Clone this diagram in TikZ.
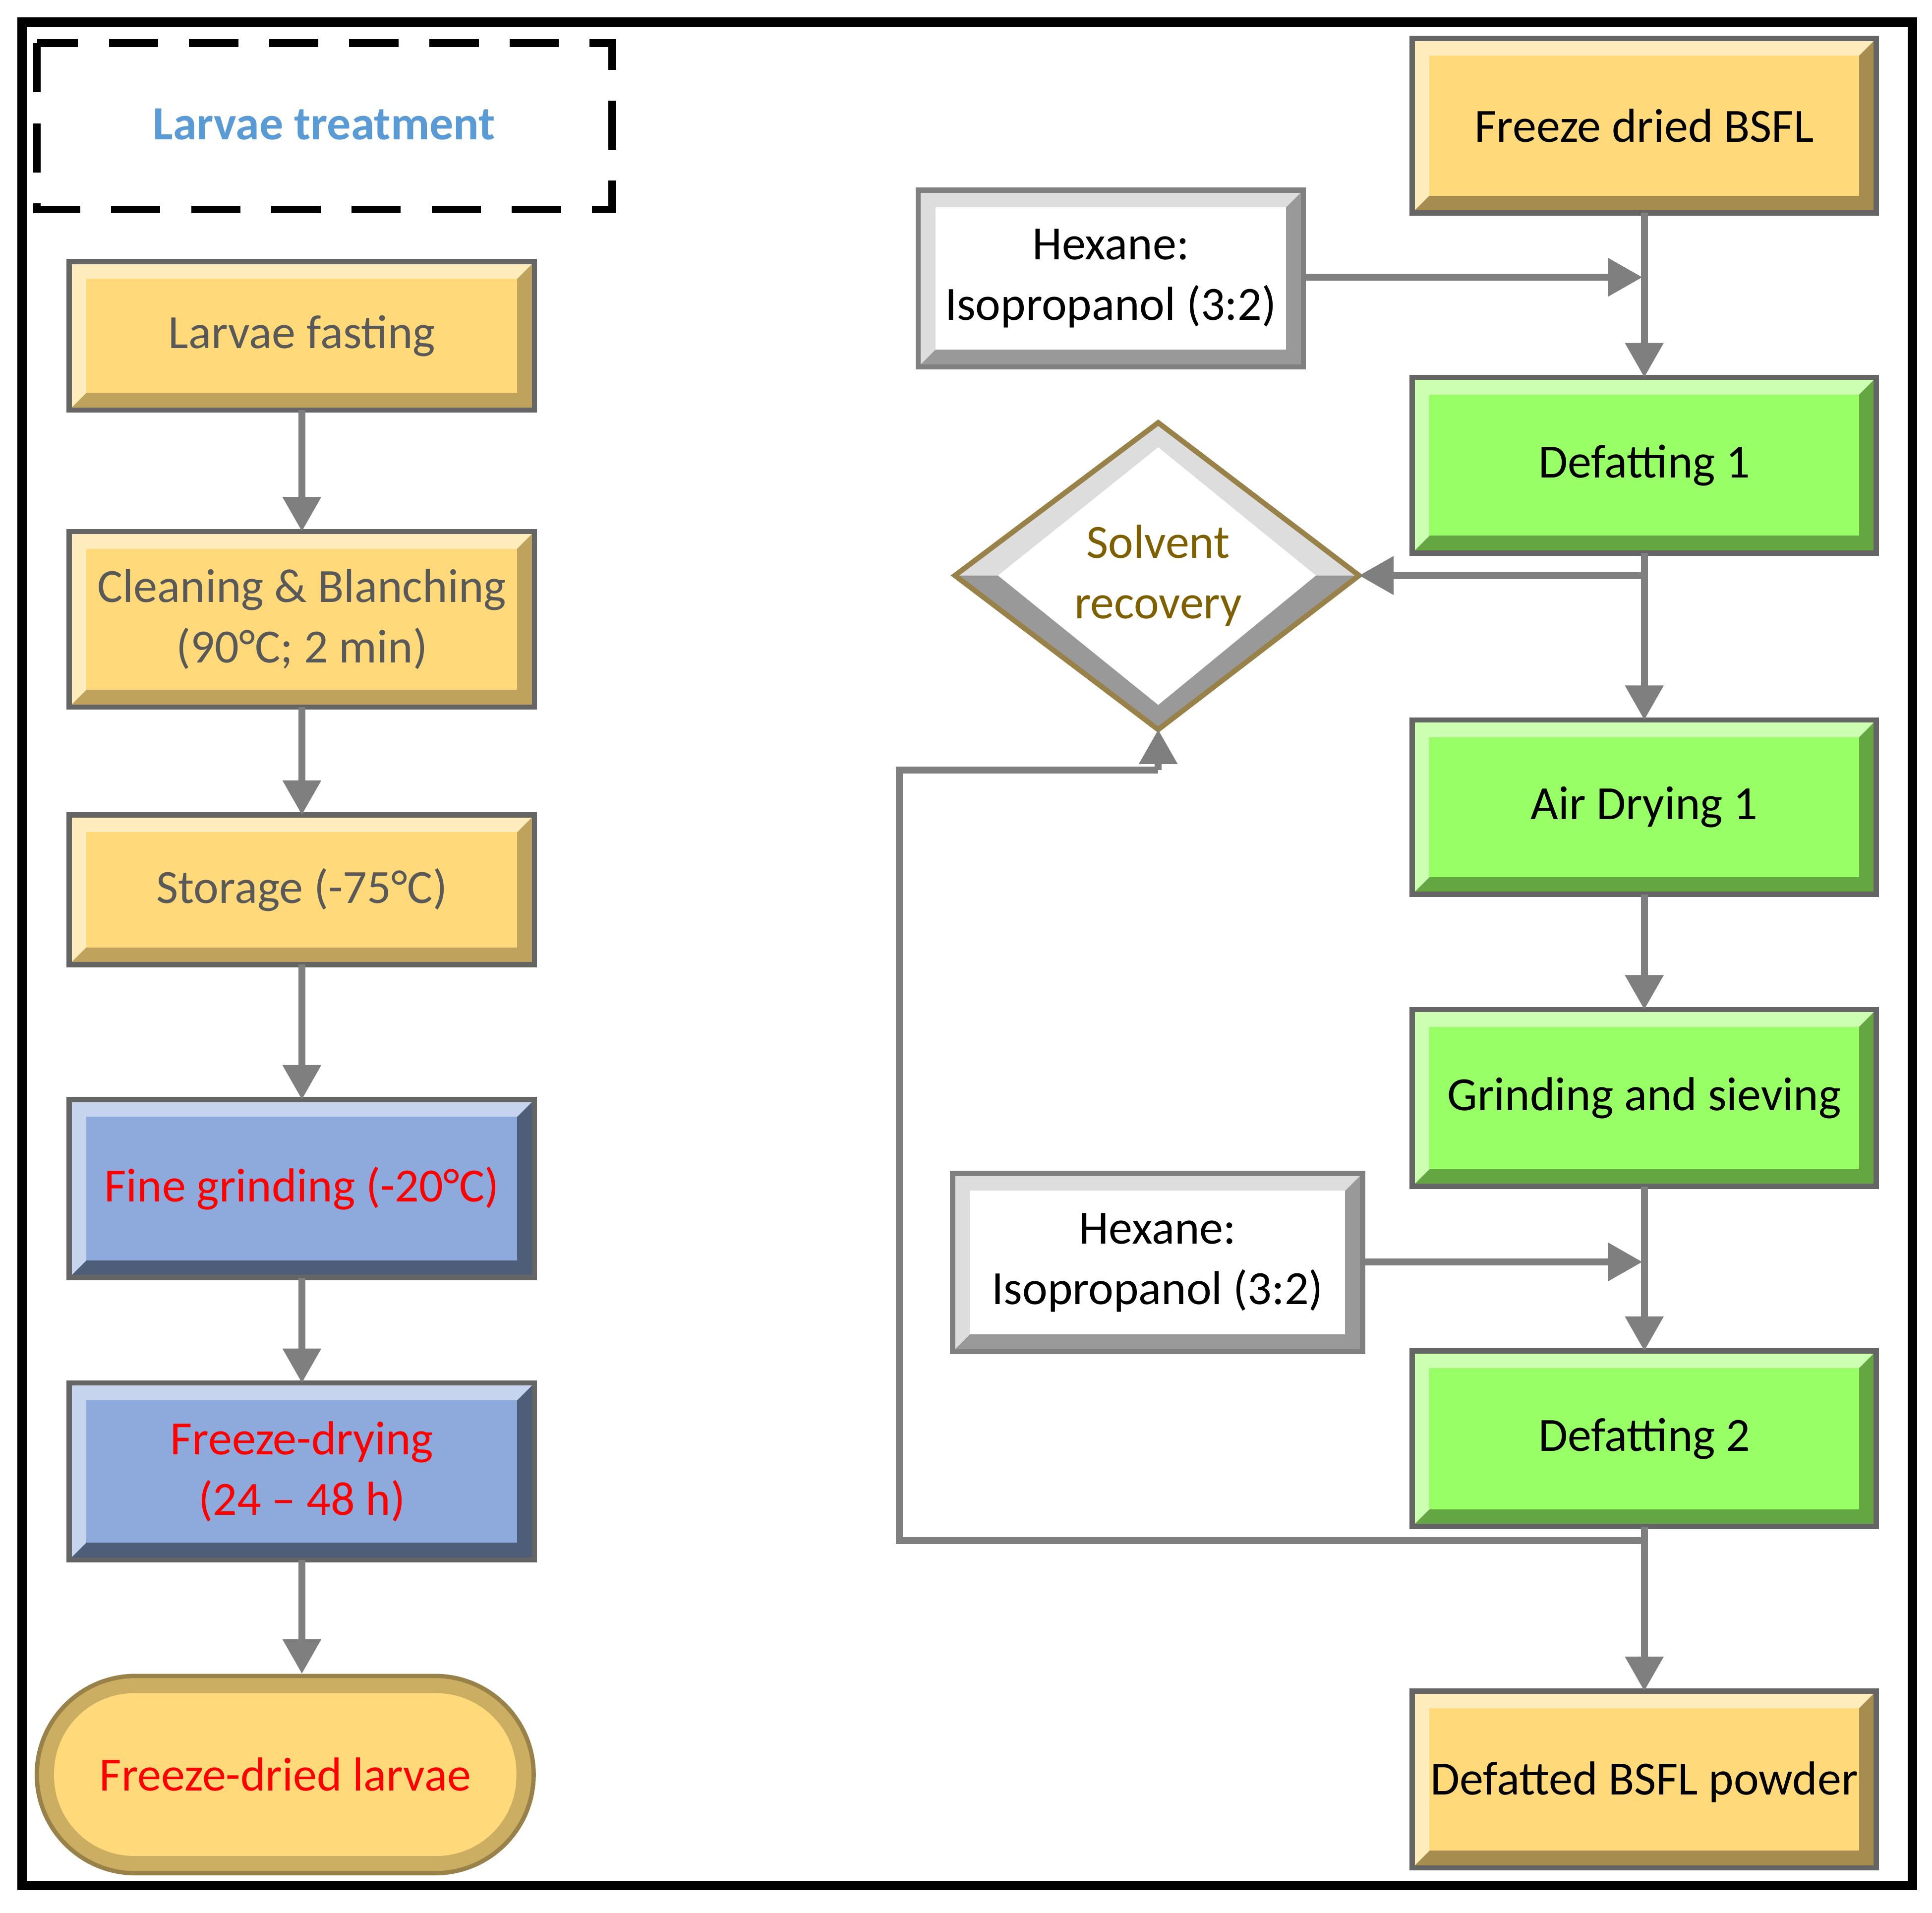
\documentclass[tikz,border=0pt]{standalone}
\usepackage{fontspec}
\setmainfont{Carlito}
\usetikzlibrary{arrows.meta,shapes.geometric,calc}
\definecolor{yel}{HTML}{FFD97A}
\definecolor{grn}{HTML}{99FF66}
\definecolor{blu}{HTML}{8EA9DB}
\definecolor{tgray}{HTML}{595959}
\definecolor{lblue}{HTML}{5B9BD5}
\definecolor{olive}{HTML}{7F6000}
\definecolor{arr}{HTML}{7F7F7F}
\definecolor{hlight}{HTML}{DDDDDD}
\definecolor{hdark}{HTML}{999999}
\tikzset{
 flow/.style={draw=arr,line width=1.6pt,-{Triangle[length=0.28cm,width=0.3cm]}},
 line/.style={draw=arr,line width=1.6pt},
}
\newcommand{\bev}[3]{%
 \fill[#2] (#1.north west) -- (#1.north east) -- ($(#1.north east)+(-14,14)$) -- ($(#1.south west)+(14,-14)$) -- (#1.south west) -- cycle;
 \fill[#3] (#1.south east) -- (#1.north east) -- ($(#1.north east)+(-14,14)$) -- ($(#1.south west)+(14,-14)$) -- (#1.south west) -- cycle;
}
\newcommand{\inner}[2]{\fill[#2] ($(#1.north west)+(14,14)$) rectangle ($(#1.south east)+(-14,-14)$);}
\begin{document}
\begin{tikzpicture}[x=0.01cm,y=-0.01cm]
\useasboundingbox (0,0) rectangle (1568,1552);
\draw[line width=2.2pt] (18,18) rectangle (1552,1530);
\draw[line width=1.8pt,dash pattern=on 0.4cm off 0.25cm] (30,35) rectangle (497,170);
\node[font=\fontsize{11}{14}\selectfont\bfseries,text=lblue] at (263,101) {Larvae treatment};
% left column
\node[minimum width=3.76cm,minimum height=1.19cm] (b1) at (245,272.5) {};
\bev{b1}{yel!50!white}{yel!75!black}
\inner{b1}{yel}
\draw[arr!80!black,line width=1.2pt] (b1.north west) rectangle (b1.south east);
\node[font=\fontsize{11}{14}\selectfont,text=tgray] at (b1) {Larvae fasting};

\node[minimum width=3.76cm,minimum height=1.41cm] (b2) at (245,502.5) {};
\bev{b2}{yel!50!white}{yel!75!black}
\inner{b2}{yel}
\draw[arr!80!black,line width=1.2pt] (b2.north west) rectangle (b2.south east);
\node[font=\fontsize{11}{14}\selectfont,text=tgray,align=center] at (b2) {Cleaning \& Blanching\\(90°C; 2 min)};

\node[minimum width=3.76cm,minimum height=1.2cm] (b3) at (245,722) {};
\bev{b3}{yel!50!white}{yel!75!black}
\inner{b3}{yel}
\draw[arr!80!black,line width=1.2pt] (b3.north west) rectangle (b3.south east);
\node[font=\fontsize{11}{14}\selectfont,text=tgray] at (b3) {Storage (-75°C)};

\node[minimum width=3.76cm,minimum height=1.43cm] (b4) at (245,964.5) {};
\bev{b4}{blu!50!white}{blu!55!black}
\inner{b4}{blu}
\draw[arr!80!black,line width=1.2pt] (b4.north west) rectangle (b4.south east);
\node[font=\fontsize{11}{14}\selectfont,text=red] at (b4) {Fine grinding (-20°C)};

\node[minimum width=3.76cm,minimum height=1.42cm] (b5) at (245,1194) {};
\bev{b5}{blu!50!white}{blu!55!black}
\inner{b5}{blu}
\draw[arr!80!black,line width=1.2pt] (b5.north west) rectangle (b5.south east);
\node[font=\fontsize{11}{14}\selectfont,text=red,align=center] at (b5) {Freeze-drying\\(24 – 48 h)};

\node[draw=yel!60!black,line width=1pt,rounded corners=0.8cm,minimum width=4.03cm,minimum height=1.6cm,fill=yel!80!black] (b6) at (231.5,1440) {};
\node[rounded corners=0.65cm,minimum width=3.75cm,minimum height=1.32cm,fill=yel] at (b6) {};
\node[font=\fontsize{11}{14}\selectfont,text=red] at (b6) {Freeze-dried larvae};

\draw[flow] (b1) -- (b2);
\draw[flow] (b2) -- (b3);
\draw[flow] (b3) -- (b4);
\draw[flow] (b4) -- (b5);
\draw[flow] (b5) -- (b5 |- b6.north);

% right column
\newcommand{\rbox}[6]{% name, y, h, fill, textcol, text
 \node[minimum width=3.75cm,minimum height=#3cm] (#1) at (1334.5,#2) {};
 \bev{#1}{#4!50!white}{#4!65!black}
 \inner{#1}{#4}
 \draw[arr!80!black,line width=1.2pt] (#1.north west) rectangle (#1.south east);
 \node[font=\fontsize{11}{14}\selectfont,text=#5,align=center] at (#1) {#6};
}
\rbox{r1}{102}{1.4}{yel}{black}{Freeze dried BSFL}
\rbox{r2}{377.5}{1.41}{grn}{black}{Defatting 1}
\rbox{r3}{655}{1.4}{grn}{black}{Air Drying 1}
\rbox{r4}{891}{1.42}{grn}{black}{Grinding and sieving}
\rbox{r5}{1167.5}{1.41}{grn}{black}{Defatting 2}
\node[minimum width=3.75cm,minimum height=1.42cm] (r6) at (1334.5,1444) {};
\bev{r6}{yel!50!white}{yel!65!black}
\inner{r6}{yel}
\draw[arr!80!black,line width=1.2pt] (r6.north west) rectangle (r6.south east);
\node[font=\fontsize{11}{14}\selectfont] at (1334.5,1446) {Defatted BSFL powder};

% hexane boxes
\node[minimum width=3.11cm,minimum height=1.42cm] (h1) at (901.5,226) {};
\bev{h1}{hlight}{hdark}
\inner{h1}{white}
\draw[gray,line width=1.2pt] (h1.north west) rectangle (h1.south east);
\node[font=\fontsize{11}{14}\selectfont,align=center] at (h1) {Hexane:\\Isopropanol (3:2)};

\node[minimum width=3.31cm,minimum height=1.43cm] (h2) at (939.5,1024.5) {};
\bev{h2}{hlight}{hdark}
\inner{h2}{white}
\draw[gray,line width=1.2pt] (h2.north west) rectangle (h2.south east);
\node[font=\fontsize{11}{14}\selectfont,align=center] at (h2) {Hexane:\\Isopropanol (3:2)};

% diamond
\coordinate (dT) at (940,343); \coordinate (dB) at (940,592);
\coordinate (dL) at (775,467); \coordinate (dR) at (1103,467);
\fill[hlight] (dT) -- (dR) -- (dL) -- cycle;
\fill[hdark] (dB) -- (dR) -- (dL) -- cycle;
\fill[white] (940,363) -- (1068,467) -- (940,572) -- (810,467) -- cycle;
\draw[yel!60!black,line width=1.2pt] (dT) -- (dR) -- (dB) -- (dL) -- cycle;
\node[font=\fontsize{11}{14}\selectfont,text=olive,align=center] at (940,467) {Solvent\\recovery};

% right arrows
\coordinate (j1) at (1333,225);
\coordinate (j2) at (1333,1024);
\coordinate (j3) at (1333,1250);
\coordinate (j4) at (1333,467);
\coordinate (c1) at (730,1250);
\coordinate (c2) at (730,625);
\coordinate (c3) at (940,625);
\draw[flow] (r1) -- (r2);
\draw[flow] (h1.east |- j1) -- (j1);
\draw[flow] (r2) -- (r3);
\draw[flow] (r3) -- (r4);
\draw[flow] (r4) -- (r5);
\draw[flow] (h2.east |- j2) -- (j2);
\draw[flow] (r5) -- (r6);
\draw[flow] (j4) -- (dR);
\draw[line] (j3) -- (c1) -- (c2) -- (c3);
\draw[flow] (c3) -- (dB);
\end{tikzpicture}
\end{document}
